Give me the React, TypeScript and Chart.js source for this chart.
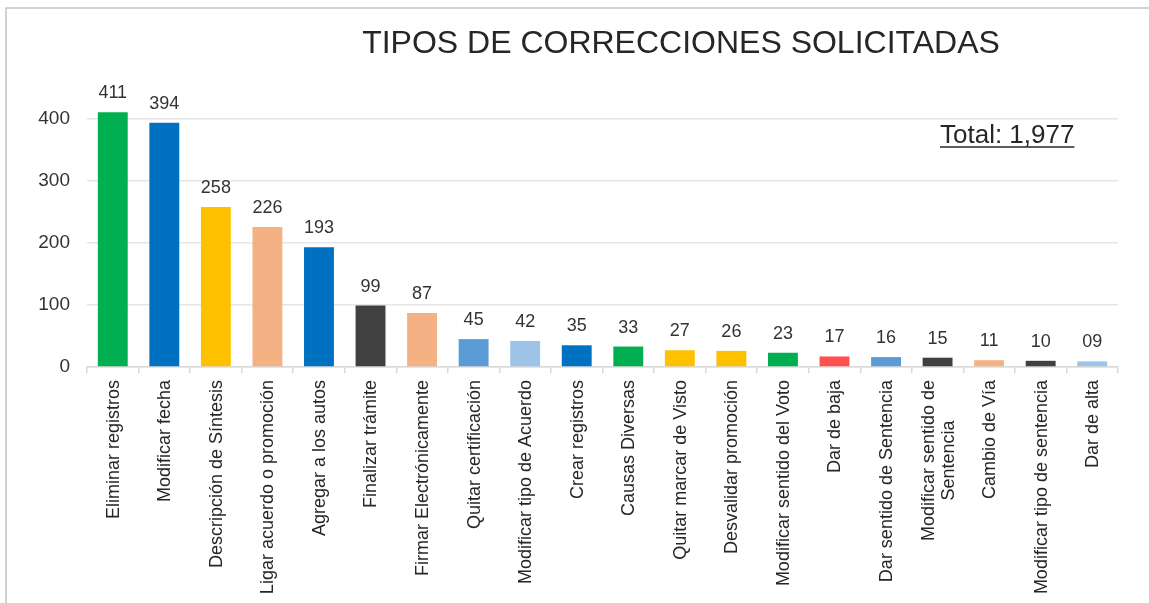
import React, { useEffect, useRef } from "react";
import { Chart, registerables } from "chart.js";

Chart.register(...registerables);

const categories: (string | string[])[] = [
  "Eliminar registros",
  "Modificar fecha",
  "Descripción de Síntesis",
  "Ligar acuerdo o promoción",
  "Agregar a los autos",
  "Finalizar trámite",
  "Firmar Electrónicamente",
  "Quitar certificación",
  "Modificar tipo de Acuerdo",
  "Crear registros",
  "Causas Diversas",
  "Quitar marcar de Visto",
  "Desvalidar promoción",
  "Modificar sentido del Voto",
  "Dar de baja",
  "Dar sentido de Sentencia",
  ["Modificar sentido de", "Sentencia"],
  "Cambio de Vía",
  "Modificar tipo de sentencia",
  "Dar de alta",
];

const values = [411, 394, 258, 226, 193, 99, 87, 45, 42, 35, 33, 27, 26, 23, 17, 16, 15, 11, 10, 9];

const valueLabels = ["411", "394", "258", "226", "193", "99", "87", "45", "42", "35", "33", "27", "26", "23", "17", "16", "15", "11", "10", "09"];

const barColors = [
  "#00B050", "#0070C0", "#FFC000", "#F4B183", "#0070C0",
  "#404040", "#F4B183", "#5B9BD5", "#9DC3E6", "#0070C0",
  "#00B050", "#FFC000", "#FFC000", "#00B050", "#FF5050",
  "#5B9BD5", "#404040", "#F4B183", "#404040", "#9DC3E6",
];

const yTicks = [0, 100, 200, 300, 400];

const titleText = "TIPOS DE CORRECCIONES SOLICITADAS";
const totalText = "Total: 1,977";

const FONT = "'Liberation Sans', Arial, sans-serif";

const decorPlugin = {
  id: "decor",
  afterDraw(chart: any) {
    const ctx = chart.ctx as CanvasRenderingContext2D;
    const area = chart.chartArea;
    const xs = chart.scales.x;
    const ys = chart.scales.y;
    ctx.save();

    // frame
    ctx.strokeStyle = "#C4C4C4";
    ctx.lineWidth = 1.5;
    ctx.beginPath();
    ctx.moveTo(6, chart.height);
    ctx.lineTo(6, 8);
    ctx.lineTo(chart.width, 8);
    ctx.stroke();

    // title
    ctx.fillStyle = "#262626";
    ctx.font = `32px ${FONT}`;
    ctx.textAlign = "center";
    ctx.textBaseline = "alphabetic";
    ctx.fillText(titleText, 681, 53);

    // total
    ctx.font = `26px ${FONT}`;
    ctx.textAlign = "left";
    ctx.fillStyle = "#262626";
    const tx = 940;
    const ty = 143;
    ctx.fillText(totalText, tx, ty);
    const tw = ctx.measureText(totalText).width;
    ctx.strokeStyle = "#262626";
    ctx.lineWidth = 1.5;
    ctx.beginPath();
    ctx.moveTo(tx, ty + 4);
    ctx.lineTo(tx + tw, ty + 4);
    ctx.stroke();

    // value labels
    const meta = chart.getDatasetMeta(0);
    ctx.font = `18px ${FONT}`;
    ctx.fillStyle = "#333333";
    ctx.textAlign = "center";
    ctx.textBaseline = "alphabetic";
    meta.data.forEach((bar: any, i: number) => {
      ctx.fillText(valueLabels[i], bar.x, ys.getPixelForValue(values[i]) - 14);
    });

    // x labels, rotated
    ctx.font = `18px ${FONT}`;
    ctx.fillStyle = "#262626";
    const lineH = 20;
    const topY = area.bottom + 13;
    categories.forEach((c, i) => {
      const lines = Array.isArray(c) ? c : [c];
      const cx = xs.getPixelForValue(i);
      const widths = lines.map((l) => ctx.measureText(l).width);
      const maxW = Math.max(...widths);
      ctx.save();
      ctx.translate(cx, topY);
      ctx.rotate(-Math.PI / 2);
      ctx.textBaseline = "middle";
      lines.forEach((l, j) => {
        const off = (j - (lines.length - 1) / 2) * lineH;
        if (lines.length === 1) {
          ctx.textAlign = "right";
          ctx.fillText(l, 0, off + 1);
        } else {
          ctx.textAlign = "center";
          ctx.fillText(l, -maxW / 2, off + 1);
        }
      });
      ctx.restore();
    });

    ctx.restore();
  },
};

export default function App() {
  const ref = useRef<HTMLCanvasElement | null>(null);

  useEffect(() => {
    if (!ref.current) return;
    const chart = new Chart(ref.current, {
      type: "bar",
      data: {
        labels: categories.map((c) => (Array.isArray(c) ? c.join(" ") : c)),
        datasets: [
          {
            data: values,
            backgroundColor: barColors,
            borderWidth: 0,
            categoryPercentage: 1,
            barPercentage: 0.58,
          },
        ],
      },
      options: {
        animation: false,
        responsive: false,
        maintainAspectRatio: false,
        layout: { padding: { top: 88, right: 31, left: 0, bottom: 0 } },
        plugins: {
          legend: { display: false },
          title: { display: false },
          tooltip: { enabled: false },
        },
        scales: {
          x: {
            ticks: { display: false },
            grid: {
              offset: true,
              drawOnChartArea: false,
              drawTicks: true,
              tickLength: 6,
              color: "#D9D9D9",
              lineWidth: 1.5,
            },
            border: { display: true, color: "#D9D9D9", width: 1.5 },
            afterFit: (s: any) => {
              s.height = 236;
            },
          },
          y: {
            min: 0,
            max: 450,
            afterBuildTicks: (s: any) => {
              s.ticks = yTicks.map((v) => ({ value: v }));
            },
            ticks: {
              padding: 17,
              color: "#333333",
              font: { family: FONT, size: 19 },
            },
            grid: { color: "#E6E6E6", drawTicks: false, lineWidth: 1.5 },
            border: { display: false },
            afterFit: (s: any) => {
              s.width = 87;
            },
          },
        },
      },
      plugins: [decorPlugin],
    });
    return () => chart.destroy();
  }, []);

  return (
    <div style={{ position: "absolute", left: 0, top: 0, width: 1149, height: 603, background: "#fff" }}>
      <canvas ref={ref} width={1149} height={603} />
    </div>
  );
}
